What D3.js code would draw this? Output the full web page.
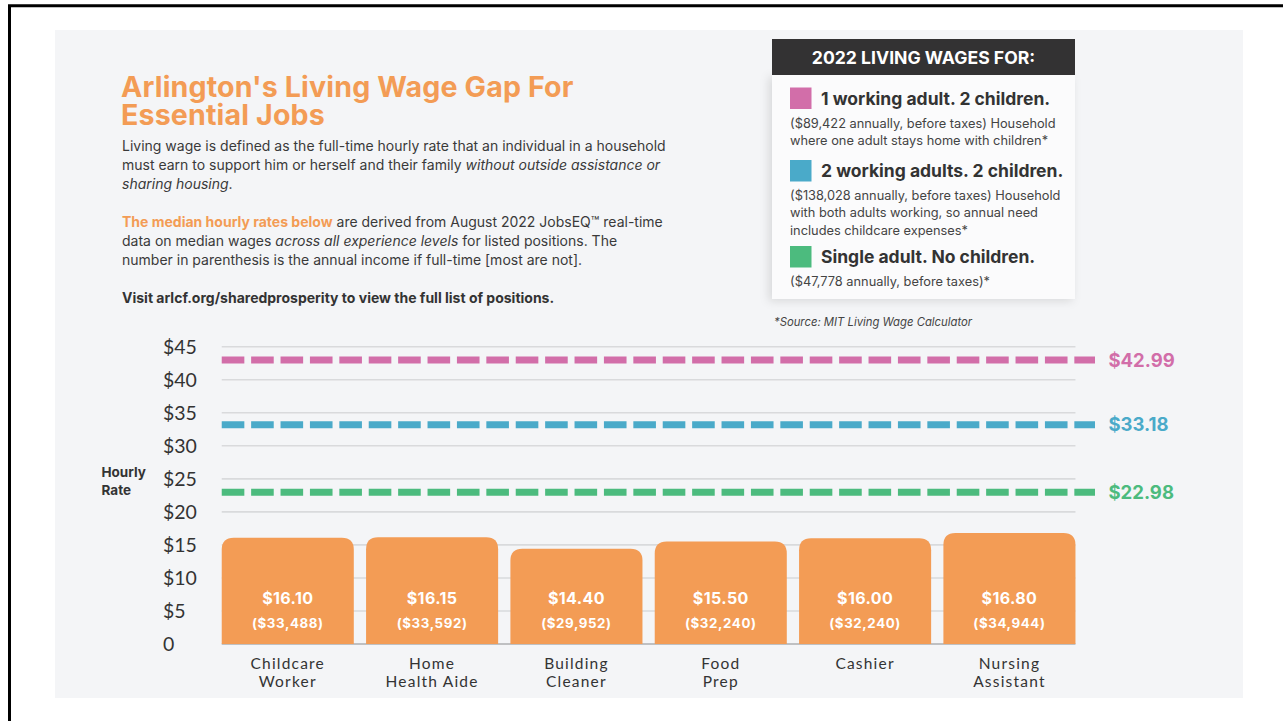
<!DOCTYPE html>
<html>
<head>
<meta charset="utf-8">
<script src="https://cdn.jsdelivr.net/npm/d3@7"></script>
<style>
  body { margin: 0; background: #fff; }
  svg { display: block; }
  text { font-family: Inter, "Open Sans", sans-serif; }
  .axis-txt { font-family: Lato, Inter, sans-serif; }
</style>
</head>
<body>
<svg id="chart" width="1283" height="721"></svg>
<script>
// ---- the data
var jobs = ["Childcare Worker", "Home Health Aide", "Building Cleaner", "Food Prep", "Cashier", "Nursing Assistant"];
var jobLines = [["Childcare", "Worker"], ["Home", "Health Aide"], ["Building", "Cleaner"], ["Food", "Prep"], ["Cashier"], ["Nursing", "Assistant"]];
var hourly = [16.10, 16.15, 14.40, 15.50, 16.00, 16.80];
var annual = [33488, 33592, 29952, 32240, 32240, 34944];

var wageNames = ["1 working adult. 2 children.", "2 working adults. 2 children.", "Single adult. No children."];
var wageValues = [42.99, 33.18, 22.98];
var wageColors = ["#d26ea9", "#4aaac9", "#4cbb7e"];
var wageNotes = [
  ["($89,422 annually, before taxes) Household", "where one adult stays home with children*"],
  ["($138,028 annually, before taxes) Household", "with both adults working, so annual need", "includes childcare expenses*"],
  ["($47,778 annually, before taxes)*"]
];
var yTicks = [0, 5, 10, 15, 20, 25, 30, 35, 40, 45];

var orange = "#f39c55";
var svg = d3.select("#chart");

// frame + gray panel
svg.append("path")
  .attr("d", "M9.5,721V5.7H1283")
  .attr("fill", "none")
  .attr("stroke", "#000")
  .attr("stroke-width", 3);

svg.append("rect")
  .attr("x", 55).attr("y", 30)
  .attr("width", 1188).attr("height", 668)
  .attr("fill", "#f4f5f7");

/*=================
=== Title block
=================*/
var head = svg.append("g").attr("class", "head");
head.selectAll(".title")
  .data(["Arlington's Living Wage Gap For", "Essential Jobs"])
  .enter().append("text")
  .attr("x", 121)
  .attr("y", function (d, i) { return 96.5 + i * 28; })
  .attr("fill", orange)
  .style("font-size", "28.6px")
  .style("font-weight", 700)
  .style("letter-spacing", "0.15px")
  .text(function (d) { return d; });

var para = head.append("text")
  .attr("fill", "#3a3a3a")
  .style("font-size", "14px");

function line(y, parts) {
  var t = para.append("tspan").attr("x", 122).attr("y", y);
  parts.forEach(function (p) {
    var s = t.append("tspan").text(p[0]);
    if (p[1] === "i") s.style("font-style", "italic");
    if (p[1] === "o") s.attr("fill", orange).style("font-weight", 700);
  });
}
line(151, [["Living wage is defined as the full-time hourly rate that an individual in a household"]]);
line(170, [["must earn to support him or herself and their family "], ["without outside assistance or", "i"]]);
line(189, [["sharing housing", "i"], ["."]]);
line(226.5, [["The median hourly rates below", "o"], [" are derived from August 2022 JobsEQ™ real-time"]]);
line(245.5, [["data on median wages "], ["across all experience levels", "i"], [" for listed positions. The"]]);
line(264.5, [["number in parenthesis is the annual income if full-time [most are not]."]]);

head.append("text")
  .attr("x", 122).attr("y", 302.5)
  .attr("fill", "#333")
  .style("font-size", "14px")
  .style("font-weight", 700)
  .text("Visit arlcf.org/sharedprosperity to view the full list of positions.");

/*=================
=== Legend box
=================*/
var defs = svg.append("defs");
var f = defs.append("filter").attr("id", "shadow").attr("x", "-20%").attr("y", "-10%").attr("width", "140%").attr("height", "120%");
f.append("feDropShadow").attr("dx", -3).attr("dy", 2).attr("stdDeviation", 5)
  .attr("flood-color", "#000").attr("flood-opacity", 0.12);

var leg = svg.append("g").attr("class", "legend");
leg.append("rect")
  .attr("x", 772).attr("y", 75).attr("width", 303).attr("height", 224)
  .attr("fill", "#fbfbfc")
  .attr("filter", "url(#shadow)");
leg.append("rect")
  .attr("x", 772).attr("y", 39).attr("width", 303).attr("height", 36)
  .attr("fill", "#333233");
leg.append("text")
  .attr("x", 923.5).attr("y", 63.5)
  .attr("text-anchor", "middle")
  .attr("fill", "#fff")
  .style("font-size", "17.6px")
  .style("font-weight", 700)
  .text("2022 LIVING WAGES FOR:");

var itemY = [87.5, 160, 246];
var item = leg.selectAll(".item")
  .data(wageNames)
  .enter().append("g")
  .attr("class", "item")
  .attr("transform", function (d, i) { return "translate(790," + itemY[i] + ")"; });

item.append("rect")
  .attr("width", 21.5).attr("height", 21.5)
  .attr("fill", function (d, i) { return wageColors[i]; });
item.append("text")
  .attr("x", 31).attr("y", 17)
  .attr("fill", "#333")
  .style("font-size", "17.5px")
  .style("font-weight", 700)
  .text(function (d) { return d; });
item.append("text")
  .attr("fill", "#444")
  .style("font-size", "12.8px")
  .selectAll("tspan")
  .data(function (d, i) { return wageNotes[i]; })
  .enter().append("tspan")
  .attr("x", 0)
  .attr("y", function (d, j) { return 40 + j * 17.3; })
  .text(function (d) { return d; });

leg.append("text")
  .attr("x", 774).attr("y", 326)
  .attr("fill", "#444")
  .style("font-size", "11.3px")
  .style("font-style", "italic")
  .text("*Source: MIT Living Wage Calculator");

/*=================
=== The chart
=================*/
var x = d3.scaleBand()
  .domain(jobs)
  .range([215.6, 1081.6])
  .paddingInner(0.085)
  .paddingOuter(0.0425);

var y = d3.scaleLinear().domain([0, 45]).range([644, 346.7]);

var x0 = x(jobs[0]);
var x1 = x(jobs[jobs.length - 1]) + x.bandwidth();

var plot = svg.append("g").attr("class", "plot");

plot.selectAll(".grid")
  .data(yTicks.filter(function (d) { return d > 0; }))
  .enter().append("line")
  .attr("class", "grid")
  .attr("x1", x0).attr("x2", x1)
  .attr("y1", function (d) { return y(d); })
  .attr("y2", function (d) { return y(d); })
  .attr("stroke", "#d9dadc")
  .attr("stroke-width", 1.6);

plot.append("line")
  .attr("x1", x0).attr("x2", x1)
  .attr("y1", y(0)).attr("y2", y(0))
  .attr("stroke", "#8a8b8d")
  .attr("stroke-width", 1.2);

plot.selectAll(".ytick")
  .data(yTicks)
  .enter().append("text")
  .attr("class", "ytick axis-txt")
  .attr("x", 163)
  .attr("y", function (d) { return y(d); })
  .attr("dy", "0.36em")
  .attr("fill", "#333")
  .style("font-size", "19.5px")
  .text(function (d) { return d === 0 ? "0" : "$" + d; });

plot.selectAll(".ylab")
  .data(["Hourly", "Rate"])
  .enter().append("text")
  .attr("x", 101.5)
  .attr("y", function (d, i) { return 476.5 + i * 18.5; })
  .attr("fill", "#333")
  .style("font-size", "13.5px")
  .style("font-weight", 700)
  .text(function (d) { return d; });

// living wage dashes
plot.selectAll(".wage")
  .data(wageValues)
  .enter().append("line")
  .attr("class", "wage")
  .attr("x1", x0).attr("x2", 1095)
  .attr("y1", function (d) { return y(d); })
  .attr("y2", function (d) { return y(d); })
  .attr("stroke", function (d, i) { return wageColors[i]; })
  .attr("stroke-width", 7)
  .attr("stroke-dasharray", "22.6 6.8");

plot.selectAll(".wage-lab")
  .data(wageValues)
  .enter().append("text")
  .attr("x", 1108.5)
  .attr("y", function (d) { return y(d); })
  .attr("dy", "0.36em")
  .attr("fill", function (d, i) { return wageColors[i]; })
  .style("font-size", "18.5px")
  .style("font-weight", 700)
  .text(function (d) { return "$" + d.toFixed(2); });

// bars, rounded on top only
var r = 12;
function barPath(d, i) {
  var bx = x(jobs[i]), w = x.bandwidth(), top = y(d), bot = y(0);
  return "M" + bx + "," + bot +
    "V" + (top + r) +
    "Q" + bx + "," + top + " " + (bx + r) + "," + top +
    "H" + (bx + w - r) +
    "Q" + (bx + w) + "," + top + " " + (bx + w) + "," + (top + r) +
    "V" + bot + "Z";
}

var bar = plot.selectAll(".bar")
  .data(hourly)
  .enter().append("g")
  .attr("class", "bar");

bar.append("path")
  .attr("d", barPath)
  .attr("fill", orange);

bar.append("text")
  .attr("x", function (d, i) { return x(jobs[i]) + x.bandwidth() / 2; })
  .attr("y", 603.5)
  .attr("text-anchor", "middle")
  .attr("fill", "#fff")
  .style("font-size", "16px")
  .style("font-weight", 700)
  .style("letter-spacing", "0.4px")
  .text(function (d) { return "$" + d.toFixed(2); });

bar.append("text")
  .attr("x", function (d, i) { return x(jobs[i]) + x.bandwidth() / 2; })
  .attr("y", 627.5)
  .attr("text-anchor", "middle")
  .attr("fill", "#fff")
  .style("font-size", "13.3px")
  .style("font-weight", 700)
  .style("letter-spacing", "0.6px")
  .text(function (d, i) { return "(" + d3.format("$,")(annual[i]) + ")"; });

// category labels
plot.selectAll(".cat")
  .data(jobLines)
  .enter().append("text")
  .attr("class", "cat axis-txt")
  .attr("text-anchor", "middle")
  .attr("fill", "#333")
  .style("font-size", "15.5px")
  .style("letter-spacing", "1.2px")
  .selectAll("tspan")
  .data(function (d, i) { return d.map(function (t) { return { t: t, i: i }; }); })
  .enter().append("tspan")
  .attr("x", function (d) { return x(jobs[d.i]) + x.bandwidth() / 2; })
  .attr("y", function (d, j) { return 668.5 + j * 18.5; })
  .text(function (d) { return d.t; });
</script>
</body>
</html>
